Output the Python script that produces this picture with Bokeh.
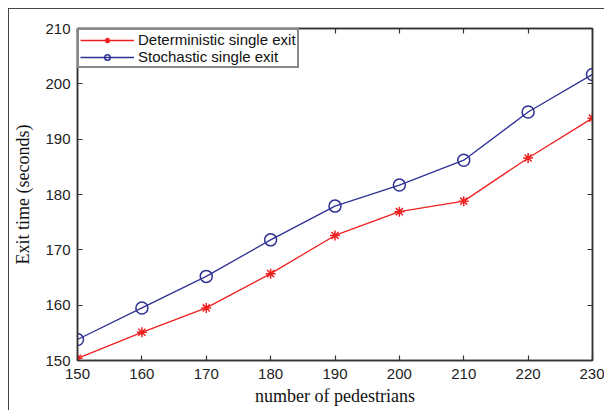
from bokeh.plotting import figure
from bokeh.models import LinearAxis, FixedTicker, Range1d
from bokeh.embed import file_html
from bokeh.resources import INLINE

pedestrians = [150, 160, 170, 180, 190, 200, 210, 220, 230]
deterministic = [150.4, 155.1, 159.5, 165.7, 172.6, 176.9, 178.8, 186.6, 193.8]
stochastic = [153.8, 159.5, 165.2, 171.8, 177.9, 181.7, 186.2, 194.9, 201.7]
x_ticks = [150, 160, 170, 180, 190, 200, 210, 220, 230]
y_ticks = [150, 160, 170, 180, 190, 200, 210]

RED = "#ee2020"
BLUE = "#2e3192"
AX = "#333333"

p = figure(width=596, height=402, output_backend="svg", toolbar_location=None,
           x_range=Range1d(150, 230), y_range=Range1d(150, 210),
           min_border_left=68, min_border_top=19, min_border_right=13, min_border_bottom=51)
p.styles = {"margin-left": "8px", "margin-top": "8px",
            "border-top": "1px solid #444", "border-left": "1px solid #444"}
p.xgrid.visible = False
p.ygrid.visible = False
p.outline_line_color = AX
p.outline_line_width = 1.5

def style_axis(ax, labels=True):
    ax.axis_line_color = AX
    ax.axis_line_width = 1.5
    ax.major_tick_in = 5
    ax.major_tick_out = 0
    ax.major_tick_line_color = AX
    ax.major_tick_line_width = 1.2
    ax.minor_tick_line_color = None
    ax.major_label_text_font = "Liberation Sans"
    ax.major_label_text_font_size = "15px"
    ax.major_label_text_color = "#222222"
    ax.axis_label_text_font = "Liberation Serif"
    ax.axis_label_text_font_size = "18px"
    ax.axis_label_text_font_style = "normal"
    ax.axis_label_text_color = "#111111"
    if not labels:
        ax.major_label_text_font_size = "0px"
        ax.major_label_text_color = None

p.xaxis.ticker = FixedTicker(ticks=x_ticks)
p.yaxis.ticker = FixedTicker(ticks=y_ticks)
p.xaxis.axis_label = "number of pedestrians"
p.yaxis.axis_label = "Exit time (seconds)"
style_axis(p.xaxis[0])
style_axis(p.yaxis[0])
p.xaxis.major_label_standoff = 8
p.yaxis.major_label_standoff = 7
p.xaxis.axis_label_standoff = 4
p.yaxis.axis_label_standoff = 9

top = LinearAxis(ticker=FixedTicker(ticks=x_ticks))
style_axis(top, labels=False)
p.add_layout(top, "above")
right = LinearAxis(ticker=FixedTicker(ticks=y_ticks))
style_axis(right, labels=False)
p.add_layout(right, "right")

p.line(pedestrians, deterministic, line_color=RED, line_width=1.3, legend_label="Deterministic single exit")
p.scatter(pedestrians, deterministic, marker="asterisk", size=10, line_color=RED, line_width=1.5,
          legend_label="Deterministic single exit")
p.line(pedestrians, stochastic, line_color=BLUE, line_width=1.3, legend_label="Stochastic single exit")
p.scatter(pedestrians, stochastic, marker="circle", size=12, line_color=BLUE, fill_color=None,
          line_width=1.5, legend_label="Stochastic single exit")

lg = p.legend[0]
lg.location = "top_left"
lg.margin = 0
lg.padding = 1
lg.spacing = 0
lg.glyph_width = 54
lg.glyph_height = 14
lg.label_height = 14
lg.label_standoff = 4
lg.label_text_font = "Liberation Sans"
lg.label_text_font_size = "15px"
lg.label_text_color = "#111111"
lg.border_line_color = "#111111"
lg.border_line_width = 2
lg.background_fill_alpha = 1

open("out.html", "w").write(file_html(p, INLINE))
